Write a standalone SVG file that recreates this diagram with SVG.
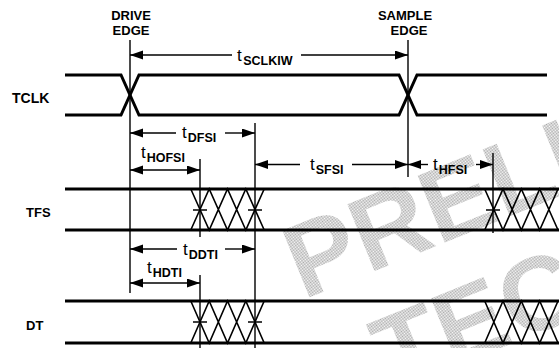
<svg xmlns="http://www.w3.org/2000/svg" width="559" height="348" viewBox="0 0 559 348">
<style>
.sig{fill:none;stroke:#000;stroke-width:3;stroke-linejoin:miter}
.xh{fill:none;stroke:#000;stroke-width:1.6}
.ref{fill:none;stroke:#000;stroke-width:1.4}
.dim{fill:none;stroke:#000;stroke-width:1.4}
.lbl{font-family:"Liberation Sans",Arial,sans-serif;font-weight:bold;fill:#000}
.t{font-family:"Liberation Sans",Arial,sans-serif;font-size:17px;fill:#000}
.s{font-size:12.5px;font-weight:bold}
.wm{font-family:"Liberation Sans",Arial,sans-serif;font-weight:bold;font-size:105px;fill:url(#dots)}
</style>
<defs>
<pattern id="dots" width="2" height="2" patternUnits="userSpaceOnUse">
<rect x="0" y="0" width="1" height="1" fill="#a6a6a6"/>
<rect x="1" y="1" width="1" height="1" fill="#a6a6a6"/>
</pattern>
<marker id="ah" markerUnits="userSpaceOnUse" markerWidth="14" markerHeight="10" refX="13" refY="4.5" orient="auto-start-reverse">
<path d="M0,0 L13,4.5 L0,9 z" fill="#000"/>
</marker>
</defs>

<g id="watermark">
<text class="wm" x="303" y="300" transform="rotate(-22 303 300)">PRELIMINARY</text>
<text class="wm" x="392" y="392" transform="rotate(-22 392 392)">TECHNICAL DATA</text>
</g>

<g id="labels">
<text class="lbl" font-size="13" x="131" y="20" text-anchor="middle">DRIVE</text>
<text class="lbl" font-size="13" x="131" y="35" text-anchor="middle">EDGE</text>
<text class="lbl" font-size="13" x="405" y="20" text-anchor="middle">SAMPLE</text>
<text class="lbl" font-size="13" x="409" y="35" text-anchor="middle">EDGE</text>
</g>

<g id="TCLK">
<text class="lbl" font-size="14" x="12" y="103">TCLK</text>
<path class="sig" d="M65,75 H121 L139,115 H399 L417,75 H547"/>
<path class="sig" d="M65,115 H121 L139,75 H399 L417,115 H547"/>
</g>

<g id="TFS">
<text class="lbl" font-size="13" x="26" y="217">TFS</text>
<path class="sig" d="M65,189 H559 M65,230 H559"/>
<path class="xh" d="M190.8,189 L209.2,230 L227.5,189 L245.8,230 L264.2,189 M190.8,230 L209.2,189 L227.5,230 L245.8,189 L264.2,230"/>
<path class="xh" d="M484.7,189 L503,230 L521.3,189 L539.7,230 L558,189 M484.7,230 L503,189 L521.3,230 L539.7,189 L558,230"/>
<path class="ref" d="M193,210 H207 M248,210 H262 M486,210 H500"/>
</g>

<g id="DT">
<text class="lbl" font-size="13" x="26" y="330">DT</text>
<path class="sig" d="M65,301 H559 M65,343 H559"/>
<path class="xh" d="M190.8,301 L209.2,343 L227.5,301 L245.8,343 L264.2,301 M190.8,343 L209.2,301 L227.5,343 L245.8,301 L264.2,343"/>
<path class="xh" d="M484.7,301 L503,343 L521.3,301 L539.7,343 L558,301 M484.7,343 L503,301 L521.3,343 L539.7,301 L558,343"/>
<path class="ref" d="M193,322 H207 M248,322 H262"/>
</g>

<g id="connectors">
<path class="ref" d="M130,40 V293 M408,40 V177 M255,123 V348 M200,159 V237 M200,275 V348 M493,153 V233"/>
<line class="dim" x1="232" y1="55" x2="130" y2="55" marker-end="url(#ah)"/>
<line class="dim" x1="301" y1="55" x2="408" y2="55" marker-end="url(#ah)"/>
<line class="dim" x1="176" y1="133" x2="130" y2="133" marker-end="url(#ah)"/>
<line class="dim" x1="225" y1="133" x2="255" y2="133" marker-end="url(#ah)"/>
<line class="dim" x1="130" y1="170" x2="200" y2="170" marker-start="url(#ah)" marker-end="url(#ah)"/>
<line class="dim" x1="300" y1="164.5" x2="255" y2="164.5" marker-end="url(#ah)"/>
<line class="dim" x1="352" y1="164.5" x2="408" y2="164.5" marker-end="url(#ah)"/>
<line class="dim" x1="428" y1="164.5" x2="408" y2="164.5" marker-end="url(#ah)"/>
<line class="dim" x1="476" y1="164.5" x2="493" y2="164.5" marker-end="url(#ah)"/>
<line class="dim" x1="177" y1="249" x2="130" y2="249" marker-end="url(#ah)"/>
<line class="dim" x1="225" y1="249" x2="255" y2="249" marker-end="url(#ah)"/>
<line class="dim" x1="130" y1="283" x2="200" y2="283" marker-start="url(#ah)" marker-end="url(#ah)"/>
</g>

<g id="timing-labels">
<text class="t" x="237" y="61">t<tspan class="s" dy="4" dx="1.5">SCLKIW</tspan></text>
<text class="t" x="182" y="138">t<tspan class="s" dy="4" dx="1">DFSI</tspan></text>
<text class="t" x="141" y="158">t<tspan class="s" dy="4" dx="1">HOFSI</tspan></text>
<text class="t" x="310" y="170">t<tspan class="s" dy="4" dx="1">SFSI</tspan></text>
<text class="t" x="433" y="170">t<tspan class="s" dy="4" dx="1">HFSI</tspan></text>
<text class="t" x="183" y="255">t<tspan class="s" dy="4" dx="1">DDTI</tspan></text>
<text class="t" x="147" y="273">t<tspan class="s" dy="4" dx="1">HDTI</tspan></text>
</g>
</svg>
